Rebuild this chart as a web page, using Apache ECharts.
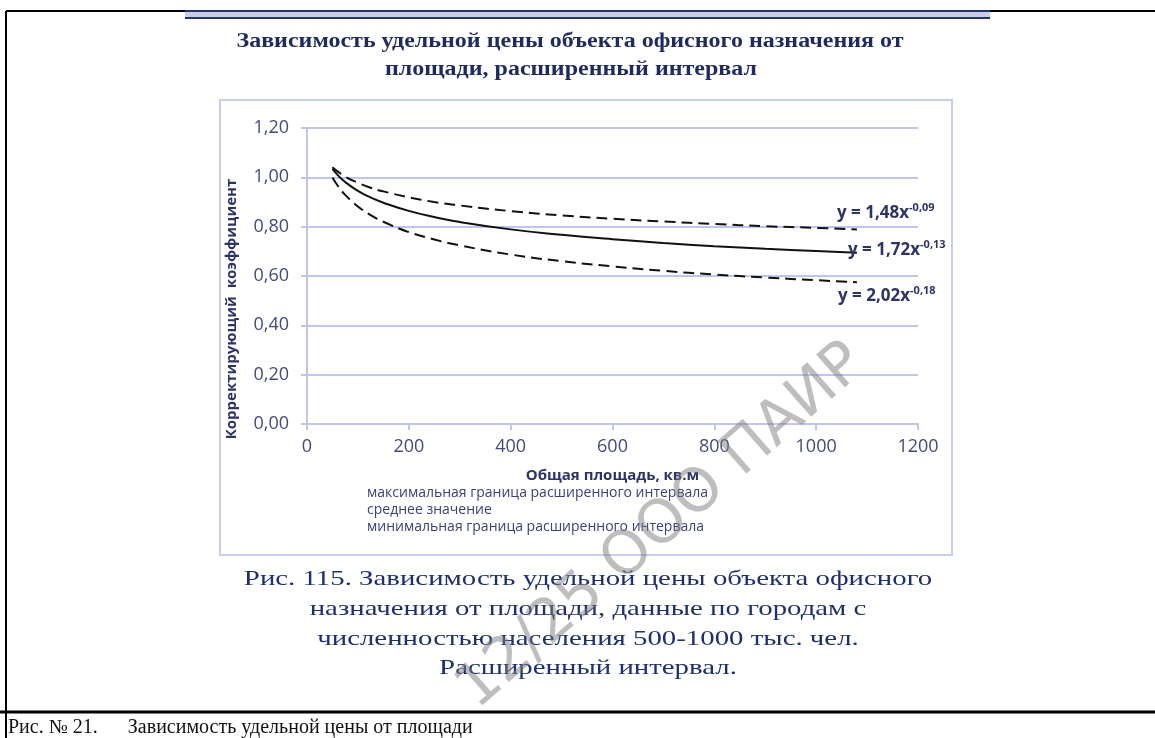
<!DOCTYPE html>
<html>
<head>
<meta charset="utf-8">
<title>Зависимость удельной цены</title>
<script src="https://cdn.jsdelivr.net/npm/echarts@6/dist/echarts.min.js"></script>
<style>
  html, body { margin: 0; padding: 0; background: #fff; }
  #chart { width: 1155px; height: 738px; }
</style>
</head>
<body>
<div id="chart"></div>
<script>
// площадь, кв.м
var area = [50, 60, 75, 100, 125, 150, 200, 250, 300, 400, 500, 600, 700, 800, 900, 1000, 1080];
// значения
var maxBound = [1.041, 1.024, 1.003, 0.978, 0.958, 0.943, 0.919, 0.900, 0.886, 0.863, 0.846, 0.832, 0.821, 0.811, 0.802, 0.795, 0.789];
var meanVal  = [1.034, 1.010, 0.981, 0.945, 0.918, 0.897, 0.864, 0.839, 0.819, 0.789, 0.767, 0.749, 0.734, 0.721, 0.710, 0.701, 0.694];
var minBound = [0.999, 0.967, 0.929, 0.882, 0.847, 0.820, 0.778, 0.748, 0.724, 0.687, 0.660, 0.639, 0.621, 0.606, 0.594, 0.583, 0.575];
var seriesNames = [
  'максимальная граница расширенного интервала',
  'среднее значение',
  'минимальная граница расширенного интервала'
];
var equations = [
  ['y = 1,48x', '-0,09'],
  ['y = 1,72x', '-0,13'],
  ['y = 2,02x', '-0,18']
];
var titleLines = [
  'Зависимость удельной цены объекта офисного назначения от',
  'площади, расширенный интервал'
];
var captionLines = [
  'Рис. 115. Зависимость удельной цены объекта офисного',
  'назначения от площади, данные по городам с',
  'численностью населения 500-1000 тыс. чел.',
  'Расширенный интервал.'
];

function pairs(ys) {
  var out = [];
  for (var i = 0; i < area.length; i++) out.push([area[i], ys[i]]);
  return out;
}

var chart = echarts.init(document.getElementById('chart'));

var gridColor = '#bfc5ee';
var labelColor = '#45497b';
var nameColor = '#2e3366';

function eqLabel(eq, x, y) {
  return {
    type: 'text', left: x, top: y, z: 10,
    style: {
      text: '{b|' + eq[0] + '}{s|' + eq[1] + '}',
      rich: {
        b: { fontFamily: 'Open Sans', fontWeight: 'bold', fontSize: 17, fill: nameColor, lineHeight: 20 },
        s: { fontFamily: 'Open Sans', fontWeight: 'bold', fontSize: 11, fill: nameColor, lineHeight: 20, padding: [0, 0, 11, 0] }
      }
    }
  };
}

function caption(text, y) {
  return {
    type: 'text', x: 588, y: y, scaleX: 1.31,
    style: { text: text, fontFamily: 'Liberation Serif', fontSize: 22, fill: '#1d2f6c', align: 'center', verticalAlign: 'middle' }
  };
}

var option = {
  backgroundColor: '#fff',
  animation: false,
  grid: { left: 307, right: 237, top: 128, bottom: 314 },
  legend: {
    data: seriesNames,
    orient: 'vertical',
    left: 357, top: 481,
    icon: 'none',
    itemWidth: 0, itemHeight: 14, itemGap: 3,
    selectedMode: false,
    textStyle: { fontFamily: 'Open Sans', fontSize: 14, color: '#3c4075' }
  },
  xAxis: {
    type: 'value', min: 0, max: 1200, interval: 200,
    name: 'Общая площадь, кв.м', nameLocation: 'middle', nameGap: 44,
    nameTextStyle: { fontFamily: 'Open Sans', fontWeight: 'bold', fontSize: 15, color: nameColor },
    axisLine: { show: true, lineStyle: { color: gridColor, width: 2 } },
    axisTick: { show: true, length: 6, lineStyle: { color: gridColor, width: 2 } },
    axisLabel: {
      margin: 14, fontFamily: 'Open Sans', fontSize: 18, color: labelColor,
      formatter: function (v) { return String(v); }
    },
    splitLine: { show: false }
  },
  yAxis: {
    type: 'value', min: 0, max: 1.2, interval: 0.2,
    axisLine: { show: true, lineStyle: { color: gridColor, width: 2 } },
    axisTick: { show: true, length: 6, lineStyle: { color: gridColor, width: 2 } },
    axisLabel: {
      margin: 18, fontFamily: 'Open Sans', fontSize: 18, color: labelColor,
      formatter: function (v) { return v.toFixed(2).replace('.', ','); }
    },
    splitLine: { show: true, lineStyle: { color: gridColor, width: 2 } }
  },
  series: [
    {
      name: seriesNames[0], type: 'line', data: pairs(maxBound), smooth: true,
      symbol: 'none', color: '#111',
      lineStyle: { color: '#111', width: 2, type: [11, 6] }
    },
    {
      name: seriesNames[1], type: 'line', data: pairs(meanVal), smooth: true,
      symbol: 'none', color: '#111',
      lineStyle: { color: '#111', width: 2 }
    },
    {
      name: seriesNames[2], type: 'line', data: pairs(minBound), smooth: true,
      symbol: 'none', color: '#111',
      lineStyle: { color: '#111', width: 2, type: [11, 6] }
    }
  ],
  graphic: [
    // рамка страницы
    { type: 'line', shape: { x1: 6, y1: 11, x2: 1155, y2: 11 }, style: { stroke: '#000', lineWidth: 2 } },
    { type: 'line', shape: { x1: 6, y1: 11, x2: 6, y2: 738 }, style: { stroke: '#000', lineWidth: 2 } },
    { type: 'line', shape: { x1: 0, y1: 712, x2: 1155, y2: 712 }, style: { stroke: '#000', lineWidth: 3 } },
    // полоса над заголовком
    { type: 'rect', shape: { x: 185, y: 11, width: 805, height: 8 }, style: { fill: '#c9cde6' }, z: 2 },
    { type: 'rect', shape: { x: 185, y: 10, width: 805, height: 2 }, style: { fill: '#24346e' }, z: 3 },
    { type: 'rect', shape: { x: 185, y: 17, width: 805, height: 2 }, style: { fill: '#24346e' }, z: 3 },
    // рамка диаграммы
    { type: 'rect', shape: { x: 220, y: 100, width: 732, height: 455 }, style: { fill: 'none', stroke: '#c8cdef', lineWidth: 2 } },
    // заголовок
    { type: 'text', x: 570, y: 42, scaleX: 1.2, style: { text: titleLines[0], fontFamily: 'Liberation Serif', fontWeight: 'bold', fontSize: 20, fill: '#1f2b5e', align: 'center', verticalAlign: 'middle' } },
    { type: 'text', x: 571, y: 70, scaleX: 1.2, style: { text: titleLines[1], fontFamily: 'Liberation Serif', fontWeight: 'bold', fontSize: 20, fill: '#1f2b5e', align: 'center', verticalAlign: 'middle' } },
    // подпись оси Y
    { type: 'text', x: 232, y: 309, rotation: Math.PI / 2, style: { text: 'Корректирующий  коэффициент', fontFamily: 'Open Sans', fontWeight: 'bold', fontSize: 15, fill: nameColor, align: 'center', verticalAlign: 'middle' } },
    // уравнения линий тренда
    eqLabel(equations[0], 837, 202),
    eqLabel(equations[1], 848, 239),
    eqLabel(equations[2], 838, 285),
    // подпись под рисунком
    caption(captionLines[0], 579),
    caption(captionLines[1], 609),
    caption(captionLines[2], 639),
    caption(captionLines[3], 668),
    // нижняя строка документа
    { type: 'text', left: 8, top: 718, style: { text: 'Рис. № 21.      Зависимость удельной цены от площади', fontFamily: 'Liberation Serif', fontSize: 20, fill: '#111' } },
    // водяной знак
    { type: 'text', x: 662, y: 527, rotation: 0.72, z: 20, style: { text: '12/25 ООО ПАИР', fontFamily: 'DejaVu Sans', fontSize: 60, fill: 'rgba(125,125,125,0.5)', align: 'center', verticalAlign: 'middle' } }
  ]
};

chart.setOption(option);
</script>
</body>
</html>
